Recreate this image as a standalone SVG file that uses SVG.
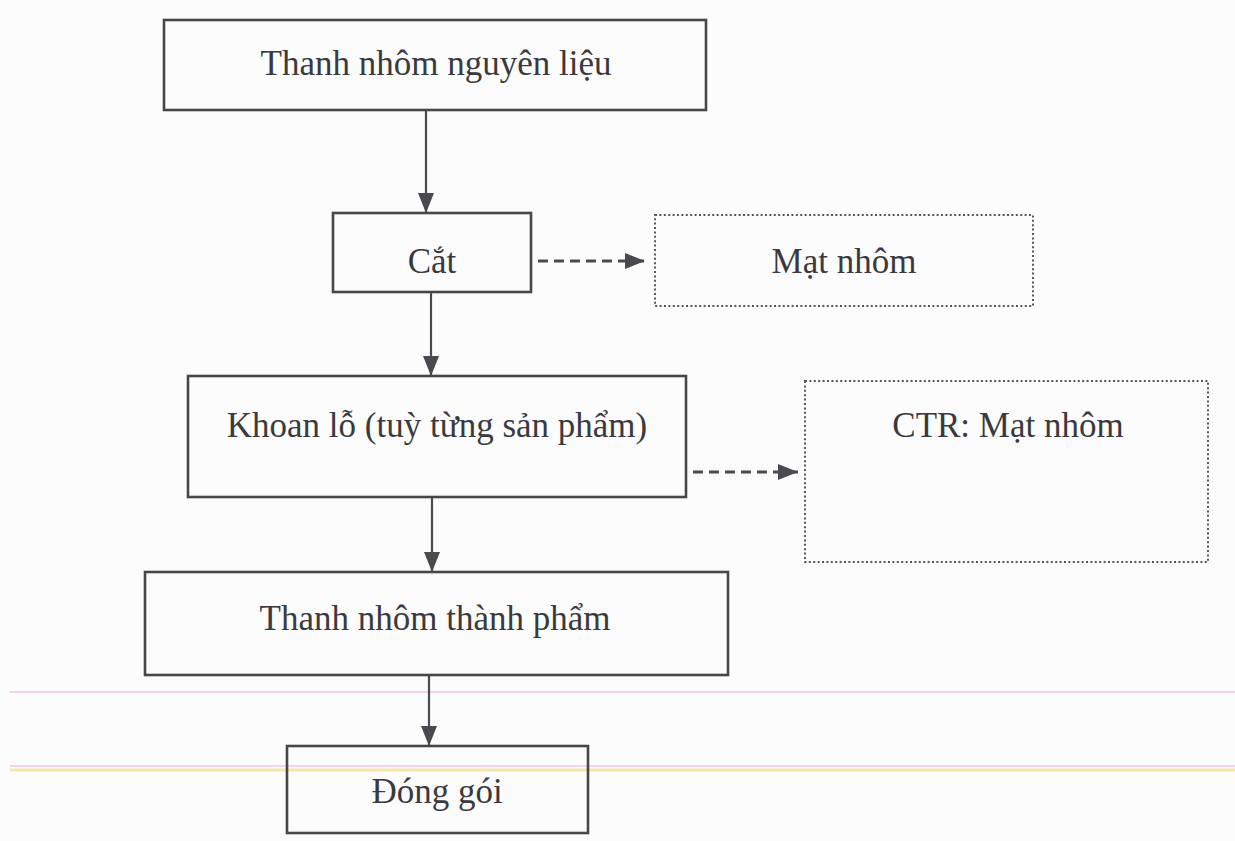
<svg xmlns="http://www.w3.org/2000/svg" width="1235" height="841" viewBox="0 0 1235 841">
  <defs>
    <marker id="head" viewBox="0 0 20 16" refX="20" refY="8" markerWidth="20" markerHeight="16" markerUnits="userSpaceOnUse" orient="auto">
      <path d="M0,0 L20,8 L0,16 Z" fill="#4a4a4e"/>
    </marker>
    <style>
      .box { fill: none; stroke: #47474b; stroke-width: 2.6; }
      .dot { fill: none; stroke: #55555a; stroke-width: 2; stroke-dasharray: 2 2.4; }
      .lbl { font-family: "Liberation Serif", "Times New Roman", serif; font-size: 35px; fill: #3a3a3e; text-anchor: middle; }
      .flow { fill: none; stroke: #4a4a4e; stroke-width: 2.2; marker-end: url(#head); }
      .side { fill: none; stroke: #4a4a4e; stroke-width: 3; stroke-dasharray: 10 6; marker-end: url(#head); }
    </style>
  </defs>

  <!-- paper -->
  <rect width="1235" height="841" fill="#fcfcfd"/>
  <line x1="10" y1="692" x2="1235" y2="692" stroke="#efd3ea" stroke-width="2"/>
  <line x1="10" y1="766" x2="1235" y2="766" stroke="#efd3ea" stroke-width="2"/>
  <line x1="10" y1="770" x2="1235" y2="770" stroke="#f3e6a8" stroke-width="3"/>

  <!-- connectors -->
  <g id="connectors">
    <line class="flow" x1="426" y1="110" x2="426" y2="213"/>
    <line class="flow" x1="431" y1="292" x2="431" y2="376"/>
    <line class="flow" x1="432" y1="497" x2="432" y2="572"/>
    <line class="flow" x1="429" y1="675" x2="429" y2="746"/>
    <line class="side" x1="538" y1="261" x2="645" y2="261"/>
    <line class="side" x1="693" y1="472" x2="798" y2="472"/>
  </g>

  <g id="node-raw">
    <rect class="box" x="164" y="20" width="542" height="90"/>
    <text class="lbl" x="436" y="75">Thanh nhôm nguyên liệu</text>
  </g>

  <g id="node-cut">
    <rect class="box" x="333" y="213" width="198" height="79"/>
    <text class="lbl" x="432" y="273">Cắt</text>
  </g>

  <g id="node-chips">
    <rect class="dot" x="655" y="215" width="378" height="91"/>
    <text class="lbl" x="844" y="273">Mạt nhôm</text>
  </g>

  <g id="node-drill">
    <rect class="box" x="188" y="376" width="498" height="121"/>
    <text class="lbl" x="437" y="437">Khoan lỗ (tuỳ từng sản phẩm)</text>
  </g>

  <g id="node-waste">
    <rect class="dot" x="805" y="381" width="403" height="181"/>
    <text class="lbl" x="1008" y="437">CTR: Mạt nhôm</text>
  </g>

  <g id="node-finished">
    <rect class="box" x="145" y="572" width="583" height="103"/>
    <text class="lbl" x="435" y="630">Thanh nhôm thành phẩm</text>
  </g>

  <g id="node-pack">
    <rect class="box" x="287" y="746" width="301" height="87"/>
    <text class="lbl" x="437" y="803">Đóng gói</text>
  </g>
</svg>
